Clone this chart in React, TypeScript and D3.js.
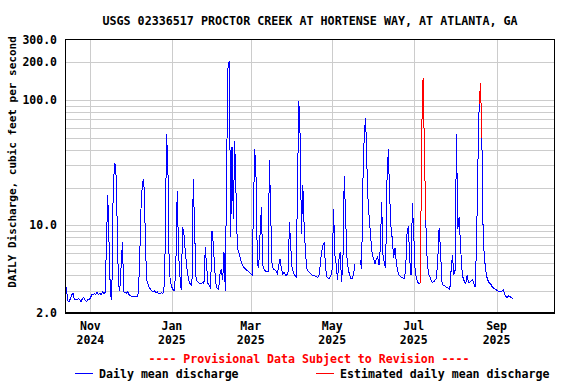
import * as d3 from 'd3'

// daily mean discharge, cfs, one value per day starting 2024-10-13 (null = no record)
const startDate = Date.UTC(2024, 9, 13)
const oct24 = [2.46, 3.2, 2.5, 2.46, 2.6, 2.8, 2.87, 2.55, 2.55, 2.55, 2.6, 2.55, 2.46, 2.6, 2.65, 2.55, 2.46, 2.55, 2.55]
const nov24 = [2.62, 2.8, 2.8, 2.87, 2.8, 2.94, 2.8, 2.87, 2.8, 2.94, 2.87, 2.9, 7, 17.3, 7, 2.8, 2.54, 17, 31, 30, 11, 3.4, 3.0, 4.7, 7.3, 2.95, 2.9, 2.87, 2.95, 2.8]
const dec24 = [2.75, 2.7, 2.7, 2.7, 2.72, 2.7, 2.9, 6, 15, 22, 23, 9.5, 3.7, 3.45, 3.2, 3.1, 3.0, 2.95, 3.0, 2.9, 2.95, 2.87, 2.85, 2.9, 2.87, 2.95, 6.7, 53, 30, 4.4, 3.5]
const jan25 = [3.2, 3.05, 3.0, 5.0, 18.9, 6, 4.0, 3.05, 9.7, 8.6, 6.3, 4.8, 4.0, 3.5, 3.4, 3.3, 23.5, 9.4, 3.9, 3.55, 3.5, 3.44, 3.44, 3.5, 3.44, 6.7, 4.7, 3.44, 3.3, 3.12, 9]
const feb25 = [7.2, 4.5, 3.44, 3.12, 3.1, 4.1, 4.5, 3.66, 6.1, 3.0, 31, 180, 205, 8.1, 42, 11.3, 47, 17.9, 6.7, 6.1, 5.6, 5.1, 4.8, 4.6, 4.5, 4.4, 4.3, 4.2]
const mar25 = [4.1, 4.0, 13, 40.6, 24, 4.9, 4.6, 8.6, 14, 4.8, 4.5, 4.3, 4.26, 4.26, 33, 11.7, 4.8, 4.5, 4.4, 4.3, 4.1, 4.8, 5.4, 4.5, 4.1, 4.2, 4.0, 4.0, 4.3, 10.6, 6.7]
const apr25 = [4.5, 4.2, 4.0, 3.9, 19.5, 98, 51, 8.6, 21, 9.8, 6.1, 4.5, 4.3, 4.2, 4.1, 4.0, 4.0, 3.95, 3.9, 3.85, 3.9, 4.8, 6.1, 6.9, 7.3, 4.6, 3.9, 3.77, 3.77, 4.0]
const may25 = [4.5, 13.5, 5.8, 4.9, 3.66, 5.3, 6.1, 3.55, 5.1, 24.8, 12, 5.6, 4.5, 4.0, 3.77, 3.77, 4.1, 4.9, null, null, null, 5.3, 4.5, 22.6, 53, 72, 29, 14, 10.6, 7.6, 5.8]
const jun25 = [5.4, 4.9, 5.4, 5.6, 4.8, 6.6, 15.3, 5.8, 5.0, 4.6, 22.6, 40.6, 17, 9.7, 7.7, 5.5, 6.6, 5.0, 4.3, 4.0, 3.9, 3.85, 3.8, 3.77, 4.5, 8.6, 9.8, 5.4, 4.0, 15]
const jul25 = [8.6, 4.5, 3.77, 3.5, 3.45, 3.44, null, null, null, 11, 5.5, 4.1, 3.9, 3.66, 3.5, 3.55, 3.66, 3.77, 5.3, 9.5, 6.6, 3.6, 3.35, 3.3, 3.23, 3.2, 3.15, 3.05, 4.4, 5.8, 4.0]
const aug25 = [4.4, 53, 9.4, 11.7, 7, 4.5, 3.77, 3.55, 3.44, 4.0, 3.5, 3.5, 3.6, 3.7, 3.45, 3.2, 6.8, 29, 92, null, 50, 8, 5.4, 4.3, 3.77, 3.55, 3.44, 3.35, 3.2, 3.15, 3.1]
const sep25 = [3.05, 3.0, 2.97, 2.97, 3.0, 3.05, 2.85, 2.7, 2.65, 2.75, 2.7, 2.65, 2.6]

// estimated daily means
const estJulDates = ['2025-07-06', '2025-07-07', '2025-07-08', '2025-07-09', '2025-07-10']
const estJulFlow = [3.44, 57, 150, 41, 11]
const estAugDates = ['2025-08-19', '2025-08-20', '2025-08-21']
const estAugFlow = [92, 137, 50]

const monthTicks = ['2024-11-01', '2025-01-01', '2025-03-01', '2025-05-01', '2025-07-01', '2025-09-01']
const monthLabels = ['Nov', 'Jan', 'Mar', 'May', 'Jul', 'Sep']
const yearLabels = ['2024', '2025', '2025', '2025', '2025', '2025']
const gridValues = [3, 4, 5, 6, 7, 8, 9, 10, 20, 30, 40, 50, 60, 70, 80, 90, 100, 200]
const yTickValues = [300, 200, 100, 10, 2]

const DAY = 86400000
const font = '"DejaVu Sans Mono", monospace'

const App = () => {
  const width = 576
  const height = 384
  const left = 65
  const right = 554
  const top = 40
  const bottom = 313

  const daily = [...oct24, ...nov24, ...dec24, ...jan25, ...feb25, ...mar25, ...apr25, ...may25, ...jun25, ...jul25, ...aug25, ...sep25]
  const dailyPts = daily.map((v, i) => ({ date: new Date(startDate + i * DAY), v }))
  const est = [
    estJulDates.map((d, i) => ({ date: new Date(d + 'T00:00:00Z'), v: estJulFlow[i] })),
    estAugDates.map((d, i) => ({ date: new Date(d + 'T00:00:00Z'), v: estAugFlow[i] }))
  ]

  const x = d3.scaleUtc().domain([new Date(Date.UTC(2024, 9, 13)), new Date(Date.UTC(2025, 9, 14))]).range([left, right])
  const y = d3.scaleLog().domain([2, 300]).range([bottom, top])

  const line = d3
    .line<{ date: Date; v: number | null }>()
    .defined((d) => d.v != null)
    .x((d) => x(d.date))
    .y((d) => y(d.v as number))

  return (
    <svg width={width} height={height} style={{ position: 'absolute', left: 0, top: 0, background: '#fff' }}>
      <rect x={0} y={0} width={width} height={height} fill='#fff' />
      <text x={310} y={25} textAnchor='middle' fontFamily={font} fontWeight='bold' fontSize={11.7}>
        USGS 02336517 PROCTOR CREEK AT HORTENSE WAY, AT ATLANTA, GA
      </text>

      {/* grid */}
      <g stroke='#cccccc' strokeWidth={1} shapeRendering='crispEdges'>
        {gridValues.map((g) => (
          <line key={g} x1={left} x2={right} y1={Math.round(y(g)) + 0.5} y2={Math.round(y(g)) + 0.5} />
        ))}
        {monthTicks.map((t) => {
          const px = Math.round(x(new Date(t + 'T00:00:00Z'))) + 0.5
          return <line key={t} x1={px} x2={px} y1={top} y2={bottom} />
        })}
      </g>

      <path d={line(dailyPts) || ''} fill='none' stroke='#0000ff' strokeWidth={1} shapeRendering='crispEdges' />
      {est.map((s, i) => (
        <path key={i} d={line(s) || ''} fill='none' stroke='#ff0000' strokeWidth={1} shapeRendering='crispEdges' />
      ))}

      <rect x={left + 0.5} y={top - 0.5} width={right - left} height={bottom - top + 0.5} fill='none' stroke='#000' strokeWidth={1.5} shapeRendering='crispEdges' />

      {/* y tick labels */}
      {yTickValues.map((v) => (
        <text key={v} x={57} y={y(v) + 4} textAnchor='end' fontFamily={font} fontWeight='bold' fontSize={11.5}>
          {v.toFixed(1)}
        </text>
      ))}

      {/* x tick labels */}
      {monthTicks.map((t, i) => {
        const px = x(new Date(t + 'T00:00:00Z'))
        return (
          <g key={t} fontFamily={font} fontWeight='bold' fontSize={11.5} textAnchor='middle'>
            <text x={px} y={330}>{monthLabels[i]}</text>
            <text x={px} y={344}>{yearLabels[i]}</text>
          </g>
        )
      })}

      <text transform='translate(16,162) rotate(-90)' textAnchor='middle' fontFamily={font} fontWeight='bold' fontSize={11}>
        DAILY Discharge, cubic feet per second
      </text>

      <text x={309} y={363} textAnchor='middle' fill='#ff0000' fontFamily={font} fontWeight='bold' fontSize={11.6}>
        ---- Provisional Data Subject to Revision ----
      </text>

      <line x1={75} x2={93} y1={373.5} y2={373.5} stroke='#0000ff' strokeWidth={1} shapeRendering='crispEdges' />
      <text x={99} y={378} fontFamily={font} fontWeight='bold' fontSize={11.6}>
        Daily mean discharge
      </text>
      <line x1={316} x2={334} y1={373.5} y2={373.5} stroke='#ff0000' strokeWidth={1} shapeRendering='crispEdges' />
      <text x={340} y={378} fontFamily={font} fontWeight='bold' fontSize={11.6}>
        Estimated daily mean discharge
      </text>
    </svg>
  )
}

export default App
